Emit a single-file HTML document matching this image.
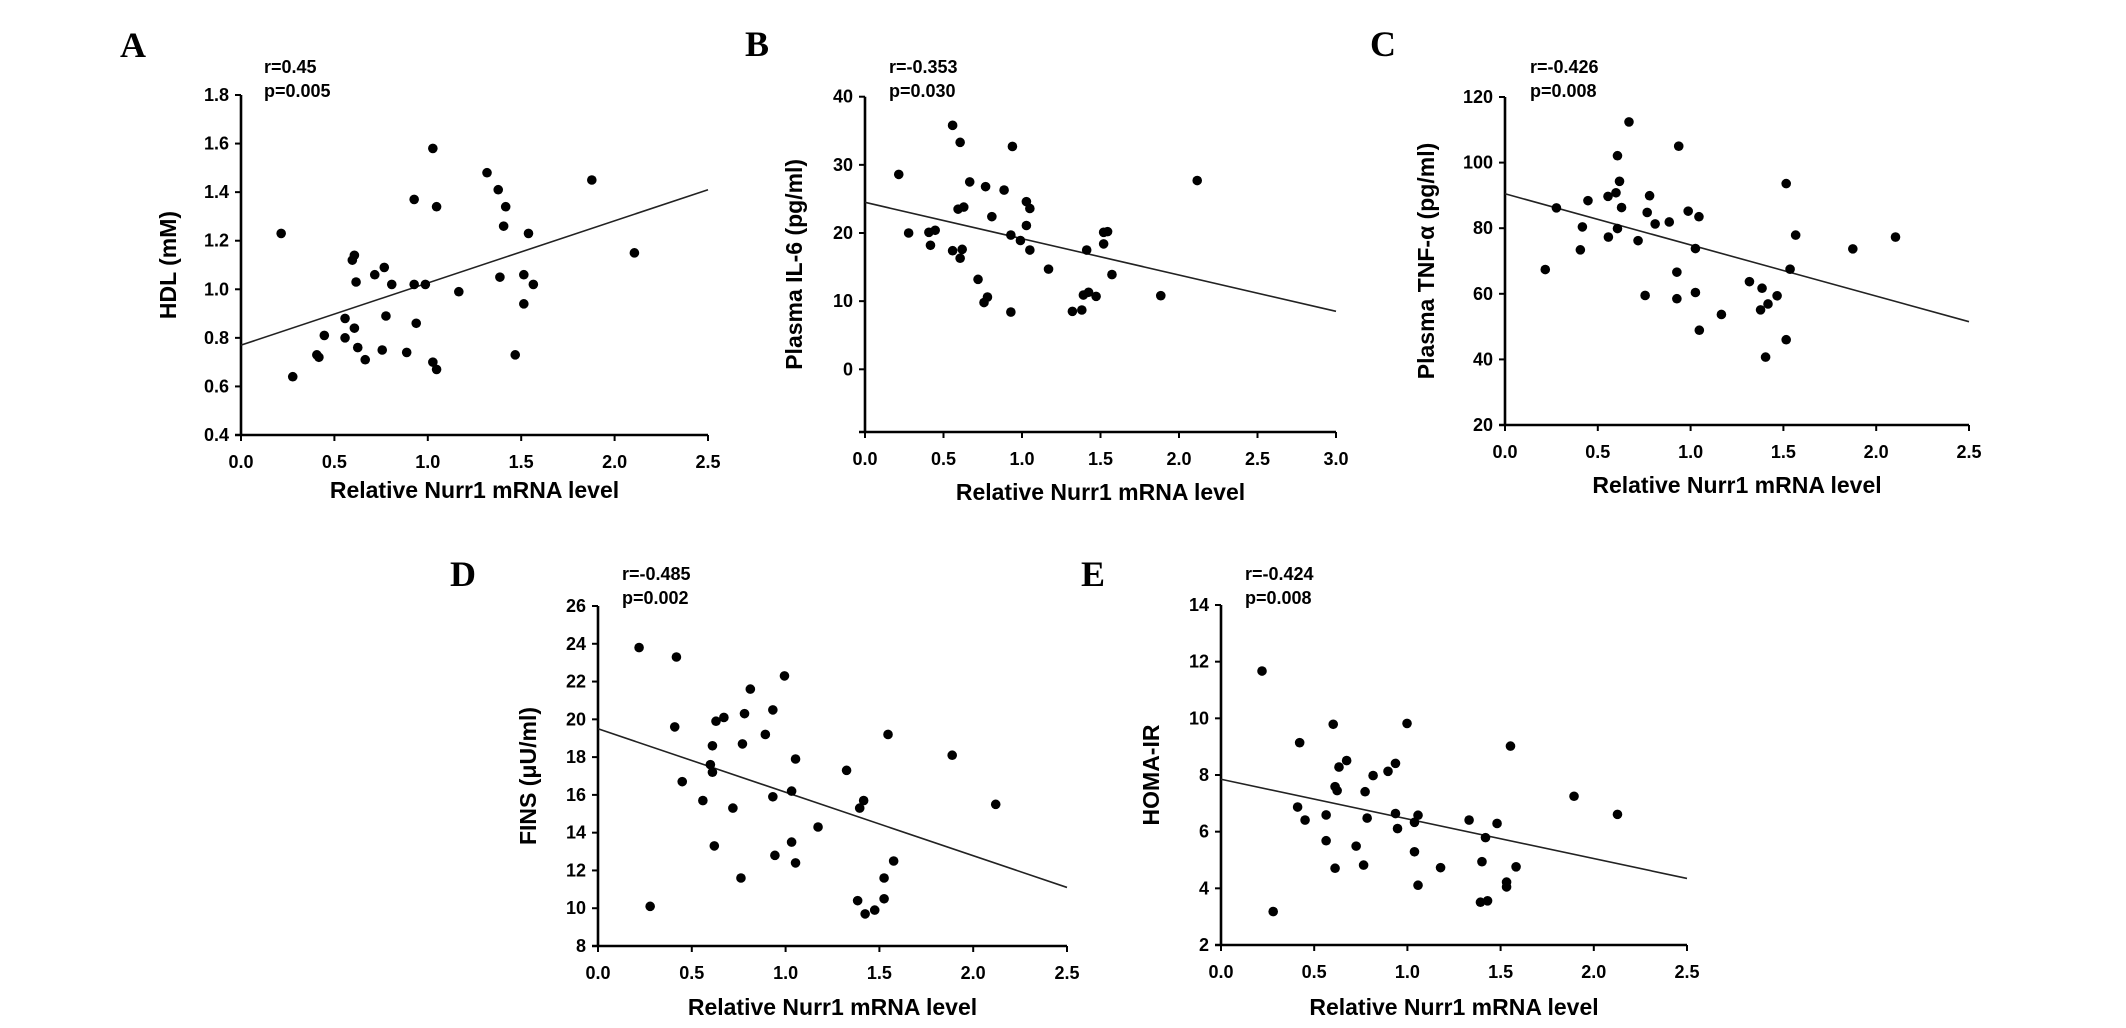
<!DOCTYPE html>
<html><head><meta charset="utf-8"><style>
html,body{margin:0;padding:0;background:#fff;}
svg{display:block;font-family:"Liberation Sans",Arial,sans-serif;}
</style></head><body>
<svg id="fig" width="2126" height="1028" viewBox="0 0 2126 1028" xmlns="http://www.w3.org/2000/svg"></svg>
<script>
// Panel A (HDL)
const xA=[.215,.277,.406,.417,.446,.557,.557,.596,.607,.616,.607,.625,.665,.716,.756,.767,.776,.807,.887,.927,.927,.938,.987,1.027,1.027,1.047,1.047,1.166,1.317,1.377,1.386,1.406,1.417,1.468,1.514,1.514,1.539,1.565,1.878,2.106];
const yA=[1.23,.64,.73,.72,.81,.88,.80,1.12,1.14,1.03,.84,.76,.71,1.06,.75,1.09,.89,1.02,.74,1.37,1.02,.86,1.02,1.58,.70,1.34,.67,.99,1.48,1.41,1.05,1.26,1.34,.73,.94,1.06,1.23,1.02,1.45,1.15];
const fitA=[0.77,0.256];
const xTicksA=["0.0","0.5","1.0","1.5","2.0","2.5"];
const yTicksA=["0.4","0.6","0.8","1.0","1.2","1.4","1.6","1.8"];
// Panel B (IL-6)
const xB=[.215,.278,.407,.447,.417,.558,.558,.606,.593,.629,.619,.606,.667,.72,.768,.758,.780,.808,.886,.929,.929,.939,.99,1.028,1.05,1.028,1.05,1.169,1.321,1.381,1.391,1.424,1.412,1.472,1.52,1.545,1.52,1.573,1.884,2.116];
const yB=[28.6,20.0,20.1,20.4,18.2,35.8,17.4,33.3,23.5,23.8,17.6,16.3,27.5,13.2,26.8,9.8,10.6,22.4,26.3,19.7,8.4,32.7,18.9,24.6,23.6,21.1,17.5,14.7,8.5,8.7,10.9,11.3,17.5,10.7,20.1,20.2,18.4,13.9,10.8,27.7];
const fitB=[24.5,-5.33];
const xTicksB=["0.0","0.5","1.0","1.5","2.0","2.5","3.0"];
const yTicksB=["0","10","20","30","40"];
// Panel C (TNF-a)
const xC=[.217,.277,.406,.417,.447,.555,.557,.598,.606,.617,.606,.628,.668,.717,.755,.766,.779,.809,.885,.926,.926,.936,.987,1.026,1.026,1.045,1.047,1.166,1.317,1.385,1.377,1.404,1.417,1.466,1.515,1.536,1.515,1.566,1.874,2.104];
const yC=[67.4,86.2,73.4,80.4,88.4,89.7,77.3,90.8,102.1,94.3,79.9,86.3,112.4,76.2,59.5,84.8,89.9,81.3,81.9,66.6,58.5,105.0,85.2,73.8,60.4,83.5,48.9,53.7,63.7,61.7,55.1,40.7,56.9,59.4,93.6,67.5,46.0,77.9,73.7,77.3];
const fitC=[90.5,-15.6];
const xTicksC=["0.0","0.5","1.0","1.5","2.0","2.5"];
const yTicksC=["20","40","60","80","100","120"];
// Panel D (FINS)
const xD=[.219,.278,.418,.409,.449,.559,.599,.61,.61,.62,.629,.671,.719,.762,.770,.781,.812,.892,.932,.932,.943,.994,1.032,1.032,1.053,1.053,1.173,1.325,1.384,1.395,1.416,1.424,1.475,1.525,1.525,1.546,1.576,1.888,2.12];
const yD=[23.8,10.1,23.3,19.6,16.7,15.7,17.6,17.2,18.6,13.3,19.9,20.1,15.3,11.6,18.7,20.3,21.6,19.2,20.5,15.9,12.8,22.3,16.2,13.5,17.9,12.4,14.3,17.3,10.4,15.3,15.7,9.7,9.9,10.5,11.6,19.2,12.5,18.1,15.5];
const fitD=[19.5,-3.36];
const xTicksD=["0.0","0.5","1.0","1.5","2.0","2.5"];
const yTicksD=["8","10","12","14","16","18","20","22","24","26"];
// Panel E (HOMA-IR)
const xE=[.22,.28,.411,.422,.451,.564,.564,.602,.612,.623,.633,.612,.674,.725,.765,.773,.784,.816,.896,.936,.936,.947,.998,1.038,1.038,1.057,1.057,1.178,1.331,1.392,1.43,1.4,1.419,1.481,1.532,1.532,1.553,1.583,1.894,2.127];
const yE=[11.67,3.18,6.87,9.14,6.41,6.59,5.68,9.79,7.59,7.45,8.28,4.71,8.51,5.49,4.82,7.41,6.48,7.98,8.13,8.41,6.64,6.11,9.82,6.33,5.29,6.58,4.11,4.73,6.41,3.51,3.56,4.94,5.79,6.29,4.22,4.05,9.02,4.76,7.25,6.61];
const fitE=[7.85,-1.4];
const xTicksE=["0.0","0.5","1.0","1.5","2.0","2.5"];
const yTicksE=["2","4","6","8","10","12","14"];

const svg=document.getElementById('fig');
const NS='http://www.w3.org/2000/svg';
function mk(tag,attrs,parent){const e=document.createElementNS(NS,tag);for(const k in attrs)e.setAttribute(k,attrs[k]);(parent||svg).appendChild(e);return e;}

function panel(id,letter,lp,geo,xs,ys,fit,xT,yT,yTitle,xTitleY,yTitleX,rText,pText,rp){
  const g=mk('g',{});
  
  
  const xmin=0,xmax=parseFloat(xT[xT.length-1]);
  const y0v=parseFloat(yT[0]),y1v=parseFloat(yT[yT.length-1]);
  const sx=v=>geo.ox+(v-xmin)/(xmax-xmin)*(geo.right-geo.ox);
  const sy=v=>geo.y0px+(v-y0v)/(y1v-y0v)*(geo.top-geo.y0px);
  // letter
  const L=mk('text',{x:lp[0],y:lp[1],'font-family':'"Liberation Serif",serif','font-weight':'bold','font-size':36},g);
  
  
  L.textContent=letter;
  // stats
  const r=mk('text',{x:rp[0],y:rp[1],'font-weight':'bold','font-size':18},g);
  
  
  r.textContent=rText;
  const p=mk('text',{x:rp[0],y:rp[1]+24,'font-weight':'bold','font-size':18},g);
  
  
  p.textContent=pText;
  // axes
  const ya=mk('line',{x1:geo.ox,y1:geo.top,x2:geo.ox,y2:geo.oy,stroke:'#000','stroke-width':2.6},g);
  
  
  const xa=mk('line',{x1:geo.ox-6,y1:geo.oy,x2:geo.right,y2:geo.oy,stroke:'#000','stroke-width':2.6},g);
  
  
  xT.forEach(t=>{const x=sx(parseFloat(t));
    mk('line',{x1:x,y1:geo.oy,x2:x,y2:geo.oy+6,stroke:'#000','stroke-width':2},g);
    const tx=mk('text',{x:x,y:geo.oy+33,'text-anchor':'middle','font-weight':'bold','font-size':18},g);
    
    
    tx.textContent=t;});
  yT.forEach(t=>{const y=sy(parseFloat(t));
    mk('line',{x1:geo.ox-6,y1:y,x2:geo.ox,y2:y,stroke:'#000','stroke-width':2},g);
    const ty=mk('text',{x:geo.ox-12,y:y+6,'text-anchor':'end','font-weight':'bold','font-size':18},g);
    
    
    ty.textContent=t;});
  const xt=mk('text',{x:(geo.ox+geo.right)/2,y:xTitleY,'text-anchor':'middle','font-weight':'bold','font-size':23},g);
  
  
  xt.textContent='Relative Nurr1 mRNA level';
  const cy=(geo.top+geo.oy)/2;
  const yt=mk('text',{x:yTitleX,y:cy,'text-anchor':'middle','font-weight':'bold','font-size':23,transform:'rotate(-90 '+yTitleX+' '+cy+')'},g);
  
  
  yt.textContent=yTitle;
  // fit line
  const fl=mk('line',{x1:sx(0),y1:sy(fit[0]),x2:sx(xmax),y2:sy(fit[0]+fit[1]*xmax),stroke:'#222','stroke-width':1.6},g);
  
  
  xs.forEach((v,i)=>{
    const c=mk('circle',{cx:sx(v),cy:sy(ys[i]),r:4.8,fill:'#000'},g);
    
    
  });
}
panel('a','A',[120,57],{ox:241,oy:435,right:708,top:95,y0px:435},xA,yA,fitA,xTicksA,yTicksA,'HDL (mM)',498,176,'r=0.45','p=0.005',[264,73]);
panel('b','B',[745,56],{ox:865,oy:432,right:1336,top:96.7,y0px:369.3},xB,yB,fitB,xTicksB,yTicksB.slice(),'Plasma IL-6 (pg/ml)',500,802,'r=-0.353','p=0.030',[889,73]);
panel('c','C',[1370,56],{ox:1505,oy:425,right:1969,top:97,y0px:425},xC,yC,fitC,xTicksC,yTicksC,'Plasma TNF-α (pg/ml)',493,1434,'r=-0.426','p=0.008',[1530,73]);
panel('d','D',[450,586],{ox:598,oy:946,right:1067,top:606,y0px:946},xD,yD,fitD,xTicksD,yTicksD,'FINS (μU/ml)',1015,536,'r=-0.485','p=0.002',[622,580]);
panel('e','E',[1081,586],{ox:1221,oy:945,right:1687,top:605,y0px:945},xE,yE,fitE,xTicksE,yTicksE,'HOMA-IR',1015,1159,'r=-0.424','p=0.008',[1245,580]);
</script>
</body></html>
